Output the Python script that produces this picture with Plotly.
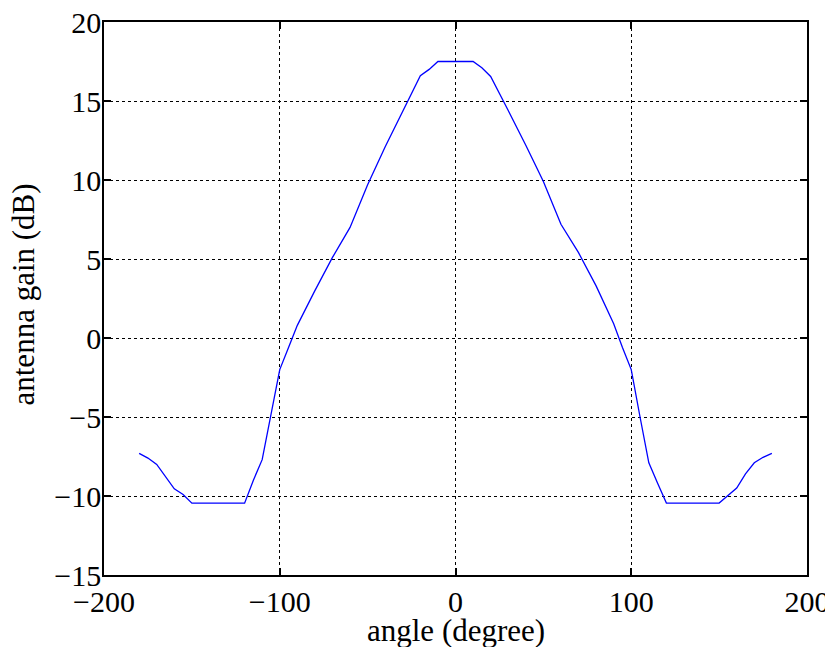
import plotly.graph_objects as go

# antenna pattern
angle = [-180, -175, -170, -165, -160, -155, -150, -120, -115, -110, -105, -100,
         -95, -90, -80, -70, -60, -50, -40, -30, -25, -20, -15, -10,
         10, 15, 20, 25, 30, 40, 50, 60, 70, 80, 90, 95,
         100, 105, 110, 115, 120, 150, 155, 160, 165, 170, 175, 180]
gain_db = [-7.3, -7.6, -8.0, -8.8, -9.55, -9.9, -10.45, -10.45, -9.0, -7.7, -4.8, -2.0,
           -0.6, 0.8, 3.0, 5.1, 7.0, 9.7, 12.1, 14.3, 15.5, 16.6, 17.0, 17.5,
           17.5, 17.1, 16.55, 15.5, 14.4, 12.2, 9.9, 7.2, 5.4, 3.3, 0.9, -0.6,
           -2.0, -5.0, -7.9, -9.2, -10.45, -10.45, -9.95, -9.5, -8.6, -7.9, -7.55, -7.3]

x_ticks = [-200, -100, 0, 100, 200]
y_ticks = [-15, -10, -5, 0, 5, 10, 15, 20]

x_title = "angle (degree)"
y_title = "antenna gain (dB)"

font = dict(family="Liberation Serif", color="black")

fig = go.Figure(
    go.Scatter(x=angle, y=gain_db, mode="lines",
               line=dict(color="#0000ff", width=1.3), hoverinfo="skip")
)

axis_common = dict(
    showline=True, linecolor="black", linewidth=1.5, mirror="ticks",
    ticks="inside", ticklen=7, tickcolor="black", tickwidth=1.5,
    showgrid=True, gridcolor="black", griddash="dot", gridwidth=1,
    zeroline=False, tickfont=dict(size=30, **font), ticklabeloverflow="allow",
)

fig.update_xaxes(range=[-200, 200], tickvals=x_ticks, ticklabelstandoff=-1, **axis_common)
fig.update_yaxes(range=[-15, 20], tickvals=y_ticks, ticklabelstandoff=-5, **axis_common)

# axis titles as annotations so they can sit where the reference has them
fig.add_annotation(text=x_title, xref="paper", yref="paper", x=0.5, y=0,
                   xanchor="center", yanchor="middle", yshift=-55,
                   showarrow=False, font=dict(size=31, **font))
fig.add_annotation(text=y_title, xref="paper", yref="paper", x=0, y=0.5,
                   xanchor="center", yanchor="middle", xshift=-81, yshift=4,
                   textangle=-90, showarrow=False, font=dict(size=31, **font))

# page body adds an 8px offset, margins allow for it
fig.update_layout(
    width=833, height=647,
    margin=dict(l=96, r=34, t=14, b=80, autoexpand=False),
    plot_bgcolor="white", paper_bgcolor="white",
    showlegend=False,
)

fig.write_html("out.html")
